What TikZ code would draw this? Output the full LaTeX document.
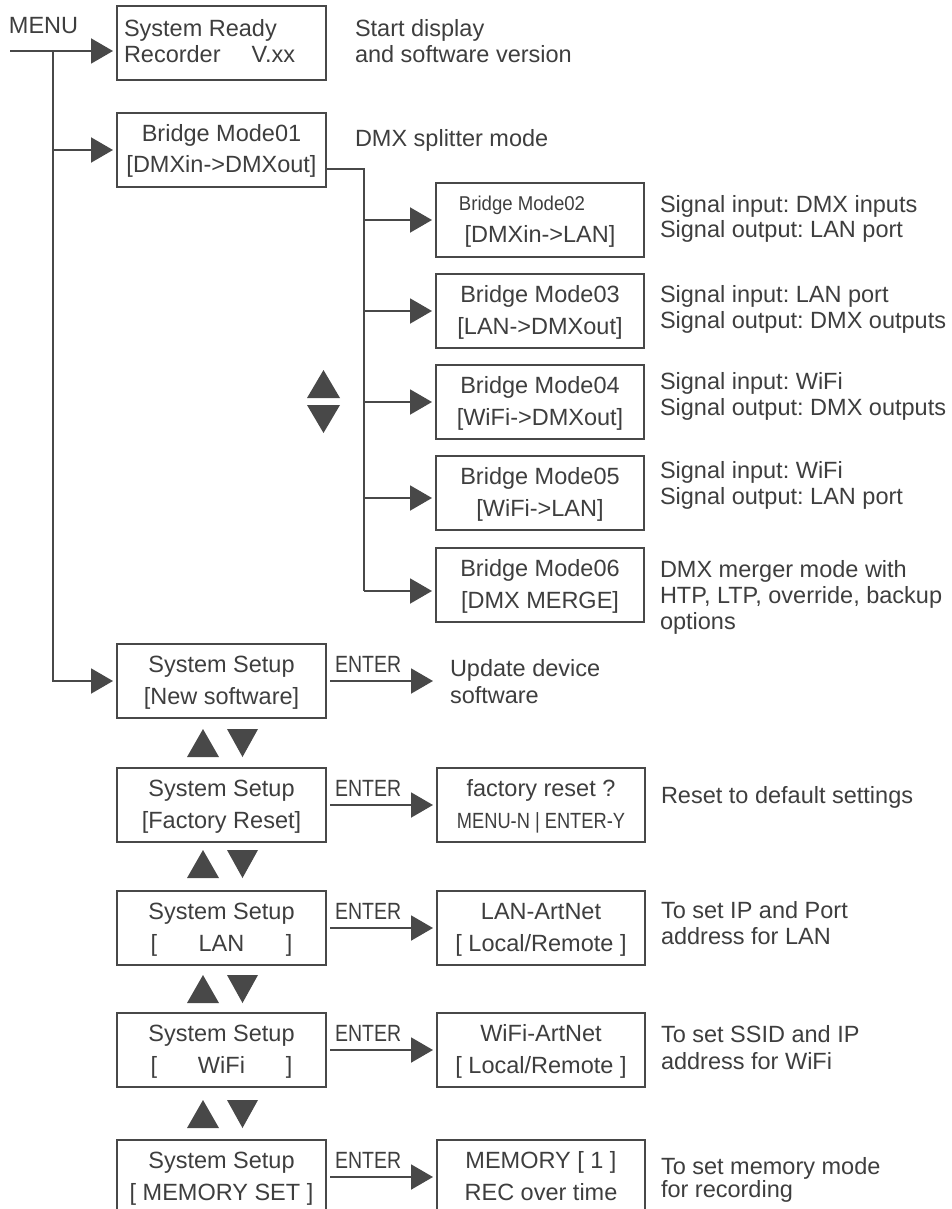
\documentclass[tikz,border=0pt]{standalone}
\usepackage{fontspec}
\setmainfont{Liberation Sans}
\usepackage{graphicx}
\usetikzlibrary{arrows.meta,calc}
\definecolor{ink}{RGB}{72,72,72}
\definecolor{txt}{RGB}{62,62,62}
\newcommand\tf{\fontsize{23.5}{28}\selectfont\frenchspacing}
\newcommand\nar[2]{\scalebox{#1}[1]{#2}}
\begin{document}
\begin{tikzpicture}[x=1pt,y=-1pt,
 lbl/.style={font=\tf, text=txt, inner sep=0pt, outer sep=0pt, anchor=base},
 lblw/.style={lbl, anchor=base west},
 box/.style={draw=ink, line width=2pt, minimum width=209pt, minimum height=74pt, anchor=north west, inner sep=0pt, outer sep=0pt},
 wire/.style={draw=ink, line width=2pt},
 arr/.style={wire, -{Triangle[length=22pt,width=25pt]}, shorten >=4pt},
 tri/.style={fill=ink}]
\useasboundingbox (0,0) rectangle (951,1209);
\clip (0,0) rectangle (951,1209);

% ---------- boxes ----------
\node[box] (b1) at (117,6) {};
\node[box] (b2) at (117,113) {};
\node[box, minimum width=208pt] (m2) at (436,183) {};
\node[box, minimum width=208pt] (m3) at (436,274) {};
\node[box, minimum width=208pt] (m4) at (436,365) {};
\node[box, minimum width=208pt] (m5) at (436,456) {};
\node[box, minimum width=208pt] (m6) at (436,548) {};
\node[box] (s1) at (117,644) {};
\node[box] (s2) at (117,768) {};
\node[box] (s3) at (117,891) {};
\node[box] (s4) at (117,1013) {};
\node[box] (s5) at (117,1140) {};
\node[box, minimum width=208pt] (r2) at (437,768) {};
\node[box, minimum width=208pt] (r3) at (437,891) {};
\node[box, minimum width=208pt] (r4) at (437,1013) {};
\node[box, minimum width=208pt] (r5) at (437,1140) {};

% ---------- texts in boxes ----------
\node[lblw] (menu) at (9,34) {MENU};
\node[lblw] (b1a) at (124,37) {System Ready};
\node[lblw] (b1b) at (124,63) {Recorder\hspace{31pt}V.xx};
\node[lbl] (b2a) at (221.5,142) {Bridge Mode01};
\node[lbl] (b2b) at (221.5,173) {[DMXin->DMXout]};

\node[lbl] (m2a) at (522,210) {\nar{0.93}{\fontsize{20}{24}\selectfont Bridge Mode02}};
\node[lbl] (m2b) at (540,242) {[DMXin->LAN]};
\node[lbl] (m3a) at (540,302) {Bridge Mode03};
\node[lbl] (m3b) at (540,334) {[LAN->DMXout]};
\node[lbl] (m4a) at (540,393) {Bridge Mode04};
\node[lbl] (m4b) at (540,425) {[WiFi->DMXout]};
\node[lbl] (m5a) at (540,484) {Bridge Mode05};
\node[lbl] (m5b) at (540,516) {[WiFi->LAN]};
\node[lbl] (m6a) at (540,576) {Bridge Mode06};
\node[lbl] (m6b) at (540,608) {[DMX MERGE]};

\node[lbl] (s1a) at (221.5,672) {System Setup};
\node[lbl] (s1b) at (221.5,704) {[New software]};
\node[lbl] (s2a) at (221.5,796) {System Setup};
\node[lbl] (s2b) at (221.5,828) {[Factory Reset]};
\node[lbl] (s3a) at (221.5,919) {System Setup};
\node[lbl] (s3b) at (221.5,951) {\makebox[142pt]{[\hfill LAN\hfill]}};
\node[lbl] (s4a) at (221.5,1041) {System Setup};
\node[lbl] (s4b) at (221.5,1073) {\makebox[142pt]{[\hfill WiFi\hfill]}};
\node[lbl] (s5a) at (221.5,1168) {System Setup};
\node[lbl] (s5b) at (221.5,1200) {[ MEMORY SET ]};

\node[lbl] (r2a) at (541,796) {factory reset ?};
\node[lbl] (r2b) at (541,828) {\nar{0.83}{\fontsize{22}{26}\selectfont MENU-N | ENTER-Y}};
\node[lbl] (r3a) at (541,919) {LAN-ArtNet};
\node[lbl] (r3b) at (541,951) {[ Local/Remote ]};
\node[lbl] (r4a) at (541,1041) {WiFi-ArtNet};
\node[lbl] (r4b) at (541,1073) {[ Local/Remote ]};
\node[lbl] (r5a) at (541,1168) {MEMORY [ 1 ]};
\node[lbl] (r5b) at (541,1200) {REC over time};

% ---------- descriptions ----------
\node[lblw] (d1a) at (355,37) {Start display};
\node[lblw] (d1b) at (355,63) {and software version};
\node[lblw] (d2a) at (355,147) {DMX splitter mode};
\node[lblw] (dm2a) at (660,212) {Signal input: DMX inputs};
\node[lblw] (dm2b) at (660,237) {Signal output: LAN port};
\node[lblw] (dm3a) at (660,302) {Signal input: LAN port};
\node[lblw] (dm3b) at (660,328) {Signal output: DMX outputs};
\node[lblw] (dm4a) at (660,389) {Signal input: WiFi};
\node[lblw] (dm4b) at (660,415) {Signal output: DMX outputs};
\node[lblw] (dm5a) at (660,478) {Signal input: WiFi};
\node[lblw] (dm5b) at (660,504) {Signal output: LAN port};
\node[lblw] (dm6a) at (660,577) {DMX merger mode with};
\node[lblw] (dm6b) at (660,603) {HTP, LTP, override, backup};
\node[lblw] (dm6c) at (660,629) {options};
\node[lblw] (ds1a) at (450,676) {Update device};
\node[lblw] (ds1b) at (450,703) {software};
\node[lblw] (ds2) at (661,803) {Reset to default settings};
\node[lblw] (ds3a) at (661,918) {To set IP and Port};
\node[lblw] (ds3b) at (661,944) {address for LAN};
\node[lblw] (ds4a) at (661,1042) {To set SSID and IP};
\node[lblw] (ds4b) at (661,1069) {address for WiFi};
\node[lblw] (ds5a) at (661,1174) {To set memory mode};
\node[lblw] (ds5b) at (661,1197) {for recording};

% ---------- ENTER labels ----------
\node[lblw] (e1) at (335,672) {\nar{0.83}{ENTER}};
\node[lblw] (e2) at (335,796) {\nar{0.83}{ENTER}};
\node[lblw] (e3) at (335,919) {\nar{0.83}{ENTER}};
\node[lblw] (e4) at (335,1041) {\nar{0.83}{ENTER}};
\node[lblw] (e5) at (335,1168) {\nar{0.83}{ENTER}};

% ---------- connectors ----------
\coordinate (menu0) at (10,51);
\coordinate (j0) at (53,51);
\draw[arr] (menu0) -- (menu0 -| b1.west);
\draw[arr] (j0) |- (s1.west);
\draw[arr] (j0 |- b2.west) -- (b2.west);

\coordinate (sp0) at ([yshift=18pt]b2.south east);
\coordinate (sp1) at (364,169);
\coordinate (a5) at ([yshift=-5pt]m5.west);
\coordinate (a6) at ([yshift=-6pt]m6.west);
\draw[wire] (sp0) -- (sp1) -- (sp1 |- a6);
\draw[arr] (sp1 |- m2.west) -- (m2.west);
\draw[arr] (sp1 |- m3.west) -- (m3.west);
\draw[arr] (sp1 |- m4.west) -- (m4.west);
\draw[arr] (sp1 |- a5) -- (a5);
\draw[arr] (sp1 |- a6) -- (a6);

\coordinate (u1) at (s1.east -| r2.west);
\draw[arr, shorten <=4pt] (s1.east) -- (u1);
\draw[arr, shorten <=4pt] (s2.east) -- (r2.west);
\draw[arr, shorten <=4pt] (s3.east) -- (r3.west);
\draw[arr, shorten <=4pt] (s4.east) -- (r4.west);
\draw[arr, shorten <=4pt] (s5.east) -- (r5.west);

% ---------- up/down triangles ----------
\fill[tri] (307,398) -- (340,398) -- (323.5,370) -- cycle;
\fill[tri] (307,405) -- (340,405) -- (323.5,433) -- cycle;
\foreach \yy in {729,850,975,1100} {
  \fill[tri] (187,\yy+28) -- (219,\yy+28) -- (203,\yy) -- cycle;
  \fill[tri] (227,\yy) -- (258,\yy) -- (242.5,\yy+28) -- cycle;
}
\end{tikzpicture}
\end{document}
